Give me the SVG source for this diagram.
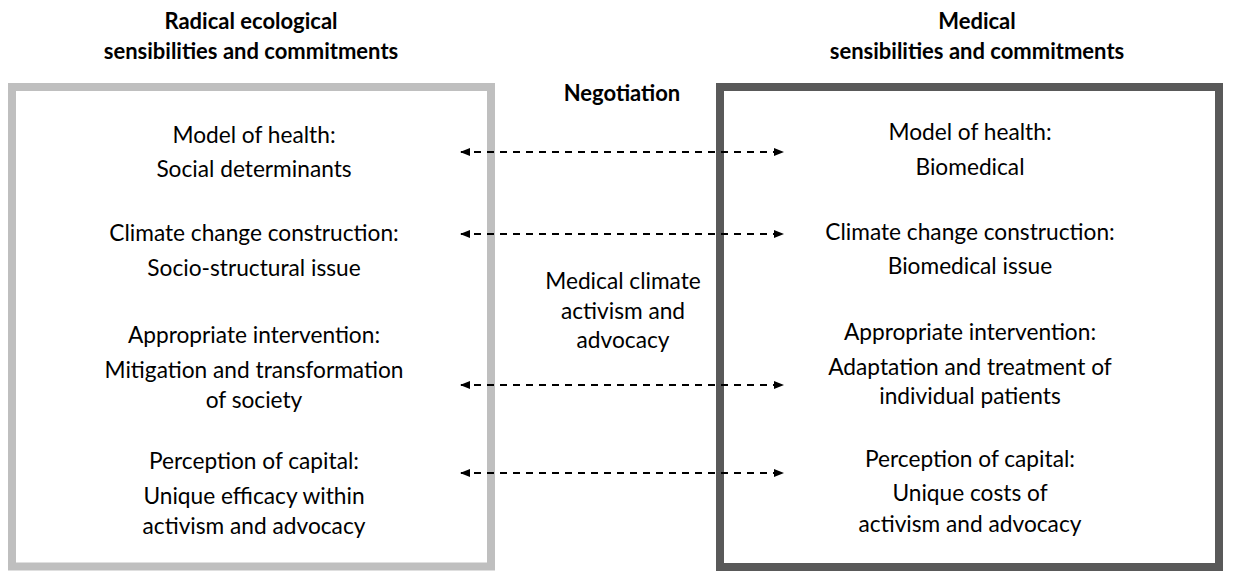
<svg xmlns="http://www.w3.org/2000/svg" width="1236" height="571" viewBox="0 0 1236 571">
  <style>
    .hdr { font-family: Lato, "Liberation Sans", sans-serif; font-weight: bold; font-size: 22px; fill: #000; text-anchor: middle; }
    .txt { font-family: Lato, "Liberation Sans", sans-serif; font-size: 22.7px; fill: #000; text-anchor: middle; }
    .conn { stroke: #000; stroke-width: 2; stroke-dasharray: 7 6; fill: none; marker-start: url(#head); marker-end: url(#head); }
  </style>
  <defs>
    <marker id="head" viewBox="0 0 10 10" refX="9" refY="5" markerWidth="10" markerHeight="10" markerUnits="userSpaceOnUse" orient="auto-start-reverse">
      <path d="M0,1 L10,5 L0,9 Z" fill="#000"/>
    </marker>
  </defs>
  <rect width="1236" height="571" fill="#fff"/>

  <!-- Left side: radical ecological -->
  <g id="radical">
    <text class="hdr" x="251" y="29">Radical ecological</text>
    <text class="hdr" x="251" y="59">sensibilities and commitments</text>
    <rect x="12" y="87" width="479" height="479.5" fill="none" stroke="#bfbfbf" stroke-width="8"/>
    <text class="txt" x="254" y="143">Model of health:</text>
    <text class="txt" x="254" y="177">Social determinants</text>
    <text class="txt" x="254" y="241">Climate change construction:</text>
    <text class="txt" x="254" y="276">Socio-structural issue</text>
    <text class="txt" x="254" y="343">Appropriate intervention:</text>
    <text class="txt" x="254" y="378">Mitigation and transformation</text>
    <text class="txt" x="254" y="408">of society</text>
    <text class="txt" x="254" y="469">Perception of capital:</text>
    <text class="txt" x="254" y="504">Unique efficacy within</text>
    <text class="txt" x="254" y="534">activism and advocacy</text>
  </g>

  <!-- Right side: medical -->
  <g id="medical">
    <text class="hdr" x="977" y="29">Medical</text>
    <text class="hdr" x="977" y="59">sensibilities and commitments</text>
    <rect x="720" y="87" width="499" height="480" fill="none" stroke="#595959" stroke-width="8"/>
    <text class="txt" x="970" y="140">Model of health:</text>
    <text class="txt" x="970" y="175">Biomedical</text>
    <text class="txt" x="970" y="240">Climate change construction:</text>
    <text class="txt" x="970" y="274">Biomedical issue</text>
    <text class="txt" x="970" y="340">Appropriate intervention:</text>
    <text class="txt" x="970" y="375">Adaptation and treatment of</text>
    <text class="txt" x="970" y="404">individual patients</text>
    <text class="txt" x="970" y="467">Perception of capital:</text>
    <text class="txt" x="970" y="501">Unique costs of</text>
    <text class="txt" x="970" y="532">activism and advocacy</text>
  </g>

  <!-- Middle: negotiation -->
  <g id="negotiation">
    <text class="hdr" x="622" y="101">Negotiation</text>
    <text class="txt" x="623" y="289">Medical climate</text>
    <text class="txt" x="623" y="319">activism and</text>
    <text class="txt" x="623" y="348">advocacy</text>
  </g>

  <!-- Two-way negotiation arrows -->
  <g id="connectors">
    <line class="conn" x1="461" y1="152" x2="783" y2="152"/>
    <line class="conn" x1="461" y1="234" x2="783" y2="234"/>
    <line class="conn" x1="461" y1="385" x2="783" y2="385"/>
    <line class="conn" x1="461" y1="473" x2="783" y2="473"/>
  </g>
</svg>
